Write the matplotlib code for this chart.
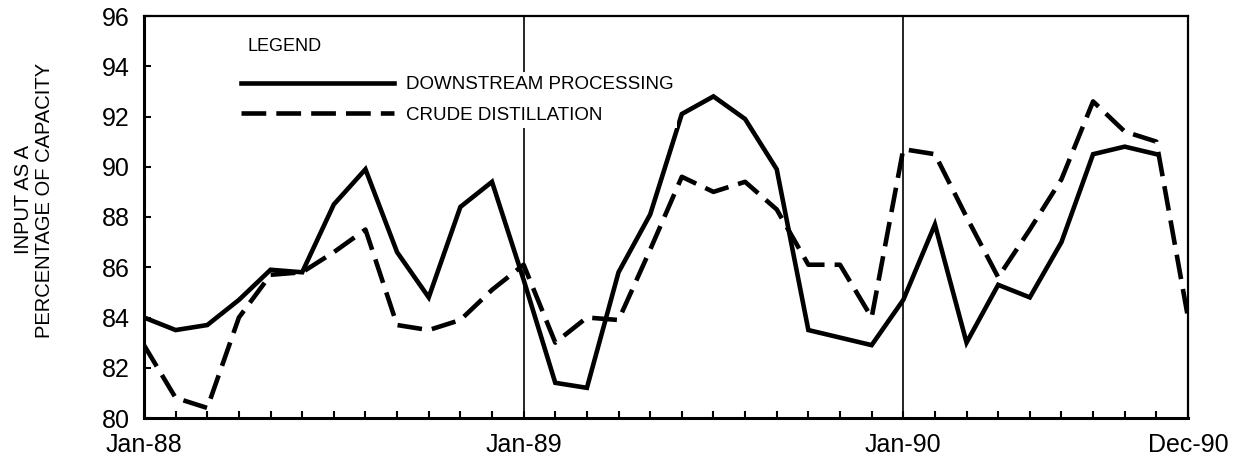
import numpy as np
import matplotlib
matplotlib.use("Agg")
import matplotlib.pyplot as plt

plt.rcParams['font.family'] = ['Liberation Sans', 'DejaVu Sans']

# Monthly data, Jan-88 onward
months = np.arange(34)
downstream = [84.0, 83.5, 83.7, 84.7, 85.9, 85.8, 88.5, 89.9, 86.6, 84.8, 88.4, 89.4,
              85.5, 81.4, 81.2, 85.8, 88.1, 92.1, 92.8, 91.9, 89.9, 83.5, 83.2, 82.9,
              84.7, 87.7, 83.0, 85.3, 84.8, 87.0, 90.5, 90.8, 90.5]
crude = [82.9, 80.8, 80.4, 84.0, 85.7, 85.8, 86.6, 87.5, 83.7, 83.5, 83.9, 85.1,
         86.1, 83.0, 84.0, 83.9, 86.7, 89.6, 89.0, 89.4, 88.3, 86.1, 86.1, 84.0,
         90.7, 90.5, 88.0, 85.6, 87.5, 89.5, 92.6, 91.4, 91.0, 84.0]
year_starts = [12, 24]
label_pos = [0, 12, 24, 33]
label_text = ['Jan-88', 'Jan-89', 'Jan-90', 'Dec-90']

fig = plt.figure(figsize=(12.39, 4.63), dpi=100)
ax = fig.add_axes([144 / 1239, 1 - 418 / 463, 1044 / 1239, 402 / 463])

# year separators
for m in year_starts:
    ax.axvline(m, color='black', lw=1.2, zorder=1)

ax.plot(months[:len(downstream)], downstream, color='black', lw=3.3,
        solid_joinstyle='miter', label='DOWNSTREAM PROCESSING', zorder=3)
ax.plot(months, crude, color='black', lw=3.3, dashes=(5.4, 2.2),
        label='CRUDE DISTILLATION', zorder=3)

ax.set_xlim(0, 33)
ax.set_ylim(80, 96)
ax.set_yticks(np.arange(80, 97, 2))
ax.set_xticks(months)
ax.set_xticklabels([label_text[label_pos.index(m)] if m in label_pos else '' for m in months])
ax.tick_params(axis='both', direction='in', length=5, width=1.5, labelsize=18)
ax.tick_params(axis='x', pad=11)
ax.tick_params(axis='y', pad=10)
for s in ax.spines.values():
    s.set_linewidth(2.2)
for s in ['top', 'right']:
    ax.spines[s].set_linewidth(1.6)

fig.text(34 / 1239, 1 - 200 / 463, 'INPUT AS A\nPERCENTAGE OF CAPACITY', rotation=90,
         ha='center', va='center', multialignment='center', fontsize=14.5,
         linespacing=1.1)

ax.text(0.0996, 0.925, 'LEGEND', transform=ax.transAxes, ha='left', va='center',
        fontsize=13)
leg = ax.legend(loc='upper left', bbox_to_anchor=(0.089, 0.86), borderaxespad=0,
                fontsize=13.5, handlelength=8.2, handletextpad=0.6, labelspacing=0.72,
                borderpad=0.2, frameon=True, facecolor='white', edgecolor='none',
                framealpha=1, fancybox=False)
leg.set_zorder(5)

fig.savefig('out.png', dpi=100)
